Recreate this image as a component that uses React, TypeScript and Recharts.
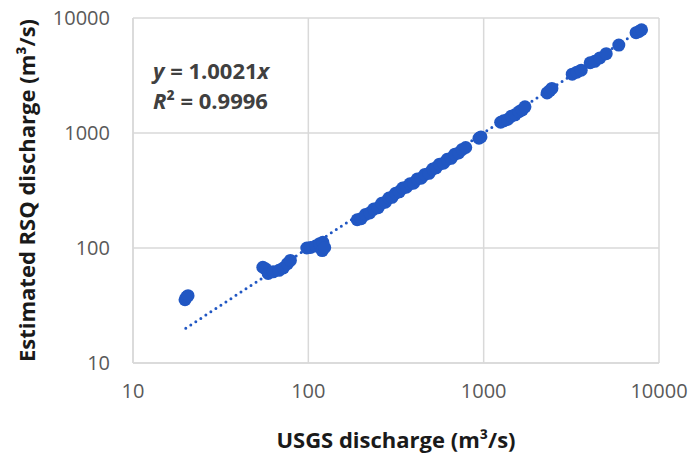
import React from "react";
import { ScatterChart, Scatter, XAxis, YAxis, CartesianGrid, Label } from "recharts";

// USGS discharge vs estimated RSQ discharge (m3/s)
const usgs = [
  19.8, 20.2, 20.6,
  55, 57, 59, 63, 68, 72, 76, 79,
  98, 103, 110, 116, 121, 120, 124,
  190, 200, 212, 224, 236, 250, 262, 275, 288, 300, 315, 330, 345, 362, 380, 398,
  418, 440, 462, 488, 512, 535, 560, 590, 620, 652, 685, 720, 755, 790,
  940, 965,
  1250, 1300, 1370, 1440, 1510, 1590, 1660, 1720,
  2300, 2380, 2450,
  3200, 3400, 3600,
  4050, 4300, 4600, 5000,
  5900,
  7400, 7700, 7950,
];
const rsq = [
  35.5, 37.5, 38.5,
  68, 66, 60, 62, 64, 67, 73, 78,
  100, 101, 104, 109, 112, 95, 101,
  176, 180, 196, 202, 218, 224, 245, 250, 272, 276, 300, 308, 332, 338, 362, 366,
  398, 404, 436, 446, 486, 498, 536, 546, 590, 602, 655, 670, 720, 748,
  900, 925,
  1240, 1275, 1310, 1400, 1440, 1530, 1590, 1690,
  2230, 2330, 2440,
  3250, 3380, 3520,
  4080, 4200, 4500, 4900,
  5820,
  7450, 7650, 7900,
];

const points = usgs.map((x, i) => ({ x, y: rsq[i] }));

// linear fit through origin, y = 1.0021x
const trendX = [20, 8000];
const trendY = [20.04, 8016.8];
const trend = trendX.map((x, i) => ({ x, y: trendY[i] }));

const ticks = [10, 100, 1000, 10000];

const BLUE = "#2157c3";
const GRID = "#d9d9d9";
const TICK = "#595959";

export default function App() {
  return (
    <div style={{ position: "absolute", left: 0, top: 0, width: 693, height: 455, background: "#fff", fontFamily: "'Open Sans', sans-serif" }}>
      <ScatterChart width={693} height={455} margin={{ top: 18, right: 34, left: 0, bottom: 0 }}>
        <CartesianGrid stroke={GRID} strokeWidth={1.5} />
        <XAxis
          type="number"
          dataKey="x"
          scale="log"
          domain={[10, 10000]}
          ticks={ticks}
          allowDataOverflow
          height={92}
          tickSize={0}
          tickMargin={21}
          axisLine={{ stroke: GRID, strokeWidth: 1.5 }}
          tickLine={false}
          tick={{ fill: TICK, fontSize: 20 }}
        >
          <Label value="USGS discharge (m³/s)" position="insideBottom" offset={7} style={{ fontSize: 22, fontWeight: 700, fill: "#1a1a1a" }} />
        </XAxis>
        <YAxis
          type="number"
          dataKey="y"
          scale="log"
          domain={[10, 10000]}
          ticks={ticks}
          allowDataOverflow
          width={133}
          tickSize={0}
          tickMargin={23}
          axisLine={{ stroke: GRID, strokeWidth: 1.5 }}
          tickLine={false}
          tick={{ fill: TICK, fontSize: 20 }}
        >
          <Label value="Estimated RSQ discharge (m³/s)" angle={-90} position="insideLeft" offset={27} style={{ textAnchor: "middle", fontSize: 22, fontWeight: 700, fill: "#1a1a1a" }} />
        </YAxis>
        <Scatter
          data={trend}
          isAnimationActive={false}
          line={{ stroke: BLUE, strokeWidth: 3, strokeDasharray: "0 6", strokeLinecap: "round" }}
          shape={() => null}
        />
        <Scatter
          data={points}
          isAnimationActive={false}
          shape={(p: any) => <circle cx={p.cx} cy={p.cy} r={6.5} fill={BLUE} />}
        />
      </ScatterChart>
      <div style={{ position: "absolute", left: 153, top: 55, fontSize: 22, fontWeight: 700, lineHeight: "30px", color: "#404040", whiteSpace: "nowrap" }}>
        <div><i>y</i> = 1.0021<i>x</i></div>
        <div><i>R</i>² = 0.9996</div>
      </div>
    </div>
  );
}
